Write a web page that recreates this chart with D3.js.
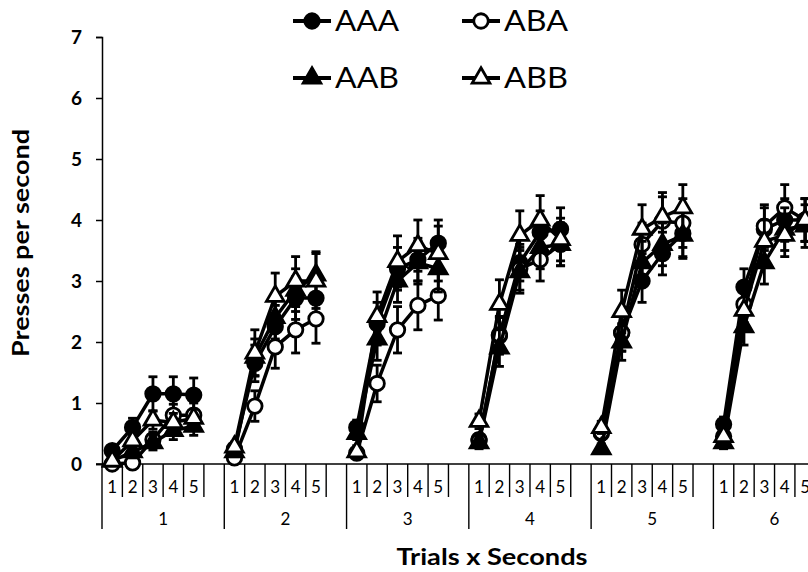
<!DOCTYPE html>
<html>
<head>
<meta charset="utf-8">
<script src="https://cdn.jsdelivr.net/npm/d3@7"></script>
<style>
  body { margin: 0; background: #fff; }
  text { font-family: Lato, "Open Sans", sans-serif; fill: #000; }
</style>
</head>
<body>
<div id="chart"></div>
<script>
// categories
var trials = ["1", "2", "3", "4", "5", "6"];
var seconds = ["1", "2", "3", "4", "5"];
var seriesNames = ["AAA", "ABA", "AAB", "ABB"];
var yTicks = [0, 1, 2, 3, 4, 5, 6, 7];

// means, 5 seconds per trial, trial after trial
var aaaMean = [0.22, 0.6, 1.15, 1.15, 1.13,  0.25, 1.65, 2.25, 2.72, 2.72,  0.6, 2.3, 3.2, 3.35, 3.62,
               0.4, 2.1, 3.3, 3.8, 3.85,  0.5, 2.15, 3.0, 3.45, 3.78,  0.65, 2.9, 3.85, 4.0, 4.0];
var abaMean = [0.0, 0.02, 0.4, 0.8, 0.8,  0.1, 0.95, 1.92, 2.2, 2.38,  0.18, 1.32, 2.2, 2.6, 2.76,
               0.38, 2.12, 3.2, 3.35, 3.6,  0.52, 2.15, 3.6, 3.98, 3.95,  0.45, 2.62, 3.9, 4.2, 4.0];
var aabMean = [0.05, 0.2, 0.35, 0.55, 0.62,  0.2, 1.75, 2.4, 2.85, 3.1,  0.5, 2.05, 3.0, 3.3, 3.2,
               0.35, 1.9, 3.15, 3.55, 3.6,  0.25, 2.0, 3.3, 3.6, 3.75,  0.35, 2.25, 3.3, 3.85, 3.9];
var abbMean = [0.05, 0.38, 0.72, 0.68, 0.75,  0.28, 1.82, 2.75, 3.0, 3.0,  0.2, 2.42, 3.32, 3.58, 3.45,
               0.7, 2.62, 3.75, 4.0, 3.68,  0.6, 2.5, 3.85, 4.05, 4.2,  0.45, 2.52, 3.65, 3.75, 4.0];

// standard errors
var aaaSE = [0.08, 0.15, 0.28, 0.28, 0.28,  0.08, 0.3, 0.35, 0.35, 0.35,  0.12, 0.35, 0.35, 0.35, 0.38,
             0.1, 0.3, 0.3, 0.35, 0.35,  0.1, 0.3, 0.35, 0.35, 0.38,  0.12, 0.3, 0.35, 0.35, 0.35];
var abaSE = [0.05, 0.05, 0.12, 0.18, 0.2,  0.05, 0.25, 0.35, 0.38, 0.4,  0.08, 0.3, 0.38, 0.4, 0.4,
             0.1, 0.3, 0.35, 0.35, 0.35,  0.1, 0.3, 0.35, 0.4, 0.4,  0.1, 0.3, 0.35, 0.38, 0.35];
var aabSE = [0.05, 0.1, 0.12, 0.15, 0.15,  0.08, 0.3, 0.35, 0.35, 0.38,  0.1, 0.35, 0.35, 0.35, 0.38,
             0.1, 0.3, 0.35, 0.35, 0.35,  0.08, 0.3, 0.35, 0.35, 0.38,  0.1, 0.3, 0.35, 0.35, 0.35];
var abbSE = [0.05, 0.12, 0.15, 0.15, 0.15,  0.08, 0.38, 0.38, 0.4, 0.45,  0.1, 0.4, 0.42, 0.42, 0.45,
             0.12, 0.4, 0.4, 0.4, 0.35,  0.1, 0.35, 0.4, 0.4, 0.38,  0.1, 0.3, 0.35, 0.35, 0.35];

var width = 808,
    height = 572;

var plotLeft = 102, plotTop = 37, plotBottom = 464;
var slotW = 20.38;

var svg = d3.select("#chart")
    .append("svg")
    .attr("width", width)
    .attr("height", height);

// one blank slot at the end of every trial
var slots = [];
trials.forEach(function(t) {
    seconds.forEach(function(s) { slots.push(t + "-" + s) })
    slots.push(t + "-gap")
})

var x = d3.scaleBand()
    .domain(slots)
    .range([plotLeft, plotLeft + slots.length * slotW])
    .padding(0)

var y = d3.scaleLinear()
    .domain([0, 7])
    .range([plotBottom, plotTop])

// y axis
var yAxis = svg.append("g")
    .attr("transform", "translate(" + plotLeft + ",0)")
    .call(d3.axisLeft(y).tickValues(yTicks).tickFormat(d3.format("d")).tickSize(6).tickPadding(14))
yAxis.select(".domain").attr("stroke", "#000").attr("stroke-width", 1.5)
yAxis.selectAll(".tick line").attr("stroke", "#000").attr("stroke-width", 1.5)
yAxis.selectAll(".tick text")
    .style("font-family", "Lato, sans-serif")
    .style("font-size", "19px")
    .style("font-weight", "bold")

svg.append("text")
    .attr("transform", "translate(29,243) rotate(-90)")
    .attr("text-anchor", "middle")
    .attr("textLength", 228)
    .attr("lengthAdjust", "spacingAndGlyphs")
    .style("font-size", "22px")
    .style("font-weight", "bold")
    .text("Presses per second")

// x axis, two levels
var xg = svg.append("g")
xg.append("line")
    .attr("x1", plotLeft - 6).attr("x2", width)
    .attr("y1", plotBottom).attr("y2", plotBottom)
    .attr("stroke", "#000").attr("stroke-width", 1.5)

slots.forEach(function(k, i) {
    var isStart = i % 6 == 0;
    xg.append("line")
        .attr("x1", x(k)).attr("x2", x(k))
        .attr("y1", plotBottom).attr("y2", isStart ? 529 : 497)
        .attr("stroke", "#000").attr("stroke-width", 1.4)
})

trials.forEach(function(t) {
    seconds.forEach(function(s) {
        xg.append("text")
            .attr("x", x(t + "-" + s) + x.bandwidth() / 2)
            .attr("y", 493)
            .attr("text-anchor", "middle")
            .style("font-size", "17px")
            .text(s)
    })
    var g0 = x(t + "-1"), g1 = x(t + "-gap") + x.bandwidth();
    xg.append("text")
        .attr("x", (g0 + g1) / 2)
        .attr("y", 525)
        .attr("text-anchor", "middle")
        .style("font-size", "17px")
        .text(t)
})

svg.append("text")
    .attr("x", 492)
    .attr("y", 565)
    .attr("text-anchor", "middle")
    .attr("textLength", 191)
    .attr("lengthAdjust", "spacingAndGlyphs")
    .style("font-size", "23px")
    .style("font-weight", "bold")
    .text("Trials x Seconds")

// series
var series = [
    { name: "AAA", mean: aaaMean, se: aaaSE, shape: "circle", fill: "#000" },
    { name: "ABA", mean: abaMean, se: abaSE, shape: "circle", fill: "#fff" },
    { name: "AAB", mean: aabMean, se: aabSE, shape: "triangle", fill: "#000" },
    { name: "ABB", mean: abbMean, se: abbSE, shape: "triangle", fill: "#fff" }
]

var circleSym = d3.symbol().type(d3.symbolCircle).size(165)
var triSym = d3.symbol().type(d3.symbolTriangle).size(135)

function points(s) {
    var pts = [];
    trials.forEach(function(t, ti) {
        seconds.forEach(function(sec, si) {
            var i = ti * seconds.length + si;
            pts.push({ trial: t, key: t + "-" + sec, v: s.mean[i], e: s.se[i] })
        })
    })
    return pts;
}

var line = d3.line()
    .x(function(d) { return x(d.key) + x.bandwidth() / 2 })
    .y(function(d) { return y(d.v) })

series.forEach(function(s) {
    var pts = points(s);
    var g = svg.append("g").attr("class", "series");

    trials.forEach(function(t) {
        g.append("path")
            .datum(pts.filter(function(d) { return d.trial == t }))
            .attr("d", line)
            .attr("fill", "none")
            .attr("stroke", "#000")
            .attr("stroke-width", 3.5)
    })

    var eb = g.selectAll(".eb")
        .data(pts)
        .enter().append("g")
        .attr("transform", function(d) { return "translate(" + (x(d.key) + x.bandwidth() / 2) + ",0)" })
    eb.append("line")
        .attr("y1", function(d) { return y(d.v - d.e) })
        .attr("y2", function(d) { return y(d.v + d.e) })
        .attr("stroke", "#000").attr("stroke-width", 2.8)
    eb.append("line")
        .attr("x1", -4.5).attr("x2", 4.5)
        .attr("y1", function(d) { return y(d.v + d.e) })
        .attr("y2", function(d) { return y(d.v + d.e) })
        .attr("stroke", "#000").attr("stroke-width", 2.8)
    eb.append("line")
        .attr("x1", -4.5).attr("x2", 4.5)
        .attr("y1", function(d) { return y(Math.max(0, d.v - d.e)) })
        .attr("y2", function(d) { return y(Math.max(0, d.v - d.e)) })
        .attr("stroke", "#000").attr("stroke-width", 2.8)

    g.selectAll(".mark")
        .data(pts)
        .enter().append("path")
        .attr("d", s.shape == "circle" ? circleSym : triSym)
        .attr("transform", function(d) { return "translate(" + (x(d.key) + x.bandwidth() / 2) + "," + y(d.v) + ")" })
        .attr("fill", s.fill)
        .attr("stroke", "#000")
        .attr("stroke-width", 2.8)
})

// legend
var legendPos = [[312, 21], [481, 21], [312, 78], [481, 78]];
series.forEach(function(s, i) {
    var p = legendPos[i];
    var lg = svg.append("g").attr("transform", "translate(" + p[0] + "," + p[1] + ")");
    lg.append("line")
        .attr("x1", -19).attr("x2", 19)
        .attr("stroke", "#000").attr("stroke-width", 4)
    lg.append("path")
        .attr("d", s.shape == "circle" ? circleSym : triSym)
        .attr("fill", s.fill)
        .attr("stroke", "#000")
        .attr("stroke-width", 2.8)
    lg.append("text")
        .attr("x", 23)
        .attr("y", 10)
        .attr("textLength", 64)
        .attr("lengthAdjust", "spacingAndGlyphs")
        .style("font-size", "28px")
        .style("font-weight", 400)
        .text(s.name)
})
</script>
</body>
</html>
